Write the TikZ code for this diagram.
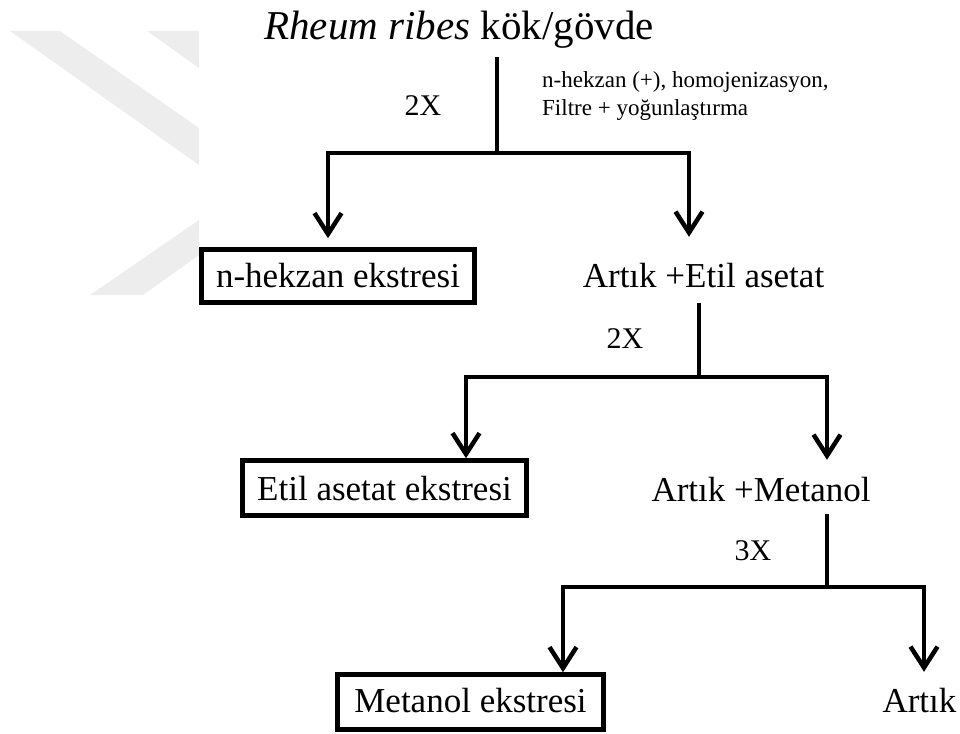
\documentclass[tikz,border=0pt]{standalone}
\usepackage{fontspec}
\setmainfont{Liberation Serif}
\usetikzlibrary{arrows.meta}
\definecolor{wm}{RGB}{237,237,237}
\begin{document}
\begin{tikzpicture}[x=1pt,y=-1pt,
  ln/.style={line width=4.5pt, line join=miter},
  arr/.style={ln, -{Straight Barb[length=21pt,width=27pt]}},
  box/.style={draw, line width=4.5pt, inner sep=0pt, anchor=base, font=\fontsize{35}{42}\selectfont},
  lbl/.style={inner sep=0pt, anchor=base, font=\fontsize{35}{42}\selectfont},
  cnt/.style={inner sep=0pt, anchor=base, font=\fontsize{30}{36}\selectfont},
  note/.style={inner sep=0pt, anchor=base west, font=\fontsize{23}{27}\selectfont}]
\useasboundingbox (0,0) rectangle (960,733);
% watermark
\fill[wm] (10,31) -- (60,31) -- (199,128) -- (199,165) -- cycle;
\fill[wm] (147,31) -- (199,31) -- (199,68) -- cycle;
\fill[wm] (90,295) -- (143,295) -- (199,255) -- (199,220) -- cycle;
% nodes
\node[inner sep=0pt, anchor=base, text depth=17pt, font=\fontsize{41}{49}\selectfont] (title) at (459,40) {\textit{Rheum ribes} kök/gövde};
\node[note] (n1) at (542,88) {n-hekzan (+), homojenizasyon,};
\node[note] (n2) at (542,115) {Filtre + yoğunlaştırma};
\node[cnt] (x1) at (423,115) {2X};
\node[box, minimum width=273pt, text height=37.5pt, text depth=15.5pt] (hex) at (338,287) {n-hekzan ekstresi};
\node[lbl, text height=50pt, text depth=16pt] (ae) at (703.5,287) {Artık +Etil asetat};
\node[cnt] (x2) at (625,348) {2X};
\node[box, minimum width=284pt, text height=39.5pt, text depth=15.5pt] (ea) at (384.5,500) {Etil asetat ekstresi};
\node[lbl, text height=41pt, text depth=13pt] (am) at (761,501) {Artık +Metanol};
\node[cnt] (x3) at (753,560) {3X};
\node[box, minimum width=266pt, text height=37.5pt, text depth=17.5pt] (me) at (470.5,712) {Metanol ekstresi};
\node[lbl, text height=40pt, text depth=5pt] (ar) at (919.5,712) {Artık};
% junctions
\coordinate (j1) at (497,153); \coordinate (c1l) at (328,153); \coordinate (c1r) at (689,153);
\coordinate (j2) at (699,377); \coordinate (c2l) at (466,377); \coordinate (c2r) at (827,377);
\coordinate (j3) at (827,587); \coordinate (c3l) at (563,587); \coordinate (c3r) at (924,587);
% connectors
\draw[ln] (j1 |- title.south) -- (j1);
\draw[arr, shorten >=9pt] (j1) -- (c1l) -- (c1l |- hex.north);
\draw[arr] (j1) -- (c1r) -- (c1r |- ae.north);
\draw[ln] (j2 |- ae.south) -- (j2);
\draw[arr] (j2) -- (c2l) -- (c2l |- ea.north);
\draw[arr] (j2) -- (c2r) -- (c2r |- am.north);
\draw[ln] (j3 |- am.south) -- (j3);
\draw[arr] (j3) -- (c3l) -- (c3l |- me.north);
\draw[arr] (j3) -- (c3r) -- (c3r |- ar.north);
\end{tikzpicture}
\end{document}
